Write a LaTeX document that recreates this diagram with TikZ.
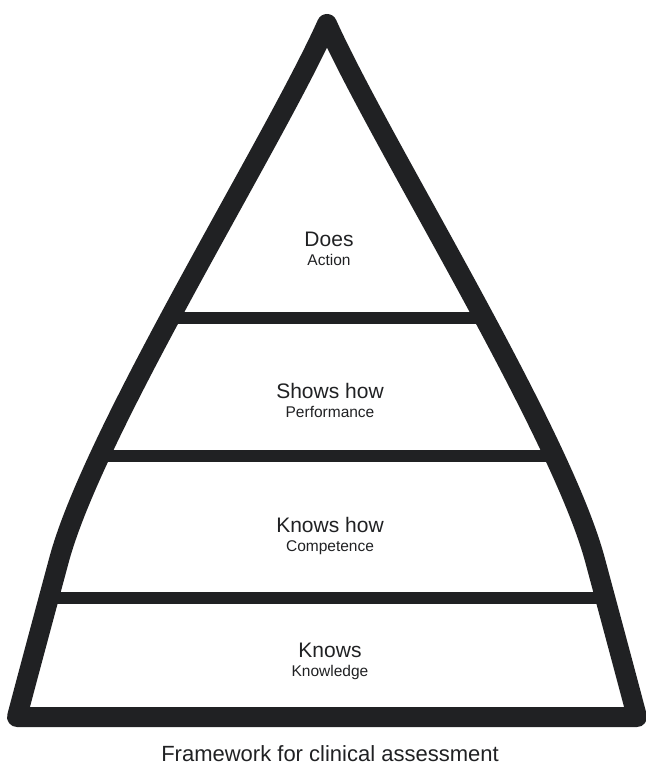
\documentclass[tikz,border=0pt]{standalone}
\usepackage{fontspec}
\setmainfont{Liberation Sans}
\definecolor{ink}{RGB}{32,33,35}
\begin{document}
\begin{tikzpicture}[x=1pt,y=-1pt,
  outline/.style={draw=ink, line width=20pt, line join=round, line cap=round},
  tier/.style={draw=ink, line width=12pt},
  big/.style={font=\fontsize{21}{23}\selectfont, text=ink, anchor=base, inner sep=0pt},
  small/.style={font=\fontsize{15.5}{17}\selectfont, text=ink, anchor=base, inner sep=0pt},
  caption/.style={font=\fontsize{22}{24}\selectfont, text=ink, anchor=base, inner sep=0pt}]
\useasboundingbox (0,0) rectangle (645,767);
\begin{scope}
\clip (17,717) -- (637,717) .. controls (630,690) and (602,586) .. (595,560) .. controls (560,430) and (381,144) .. (327,24) .. controls (273,144) and (94,430) .. (59,560) .. controls (52,586) and (24,690) .. (17,717) -- cycle;
\draw[tier] (0,317.5) -- (645,317.5);
\draw[tier] (0,456) -- (645,456);
\draw[tier] (0,598) -- (645,598);
\end{scope}
\draw[outline] (17,717) -- (637,717) .. controls (630,690) and (602,586) .. (595,560) .. controls (560,430) and (381,144) .. (327,24) .. controls (273,144) and (94,430) .. (59,560) .. controls (52,586) and (24,690) .. (17,717) -- cycle;
\node[big] (does) at (329,246) {Does};
\node[small] (action) at (329,265) {Action};
\node[big] (shows) at (330,398) {Shows how};
\node[small] (perf) at (330,417) {Performance};
\node[big] (knowshow) at (330,532) {Knows how};
\node[small] (comp) at (330,551) {Competence};
\node[big] (knows) at (330,657) {Knows};
\node[small] (knowl) at (330,676) {Knowledge};
\node[caption] (title) at (330,761) {Framework for clinical assessment};
\end{tikzpicture}
\end{document}
